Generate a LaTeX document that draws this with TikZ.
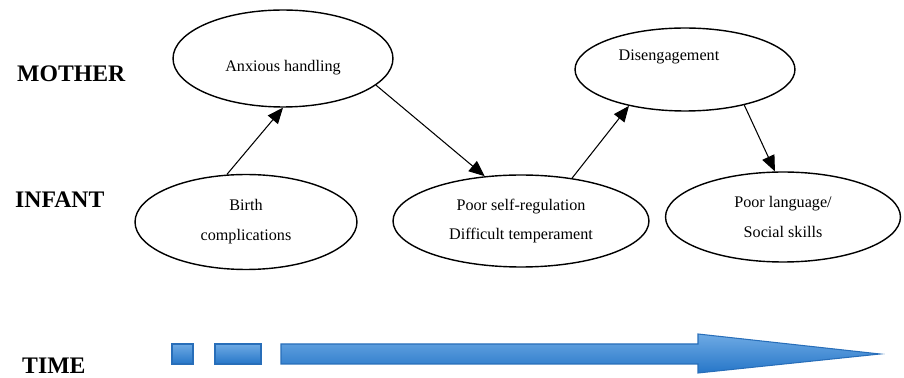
\documentclass[tikz,border=0pt]{standalone}
\usepackage{fontspec}
\setmainfont{Liberation Serif}
\usetikzlibrary{shapes.geometric,arrows.meta}
\definecolor{timetop}{RGB}{110,170,228}
\definecolor{timebot}{RGB}{38,118,200}
\definecolor{timeline}{RGB}{40,110,185}
\begin{document}
\begin{tikzpicture}[x=0.02cm,y=-0.02cm,>={Triangle[length=9pt,width=7.5pt]},
  bubble/.style={draw,ellipse,line width=0.8pt,inner sep=0pt,align=center,
    font=\fontsize{9.2}{17}\selectfont},
  bubbletext/.style={font=\fontsize{9.2}{11}\selectfont},
  who/.style={anchor=base west,font=\fontsize{13.5}{16}\selectfont\bfseries},
  timebar/.style={draw=timeline,line width=0.6pt,top color=timetop,bottom color=timebot}]
\useasboundingbox (0,0) rectangle (904,378);
% rows
\node[who] (mother) at (11,82) {MOTHER};
\node[who] (infant) at (9,208) {INFANT};
\node[who] (time) at (16,374) {TIME};
% ellipses
\node[bubble,minimum width=4.4cm,minimum height=1.94cm] (anx) at (283,58.5) {};
\node[bubbletext] (anxtext) at (283,68) {Anxious handling};
\node[bubble,minimum width=4.44cm,minimum height=1.9cm] (birth) at (246,222) {Birth\\complications};
\node[bubble,minimum width=5.12cm,minimum height=1.84cm] (self) at (521,221) {Poor self-regulation\\Difficult temperament};
\node[bubble,minimum width=4.4cm,minimum height=1.66cm] (dis) at (685,69.5) {};
\node[bubbletext] (distext) at (669,57) {Disengagement};
\node[bubble,minimum width=4.7cm,minimum height=1.8cm] (lang) at (783,217) {Poor language/\\Social skills};
% links
\draw[->,line width=0.6pt](birth.112)--(anx.south);
\draw[->,line width=0.6pt](anx.344)--(self.129);
\draw[->,line width=0.6pt](self.40)--(dis.213);
\draw[->,line width=0.6pt](dis.329)--(lang.100);
% time arrow
\draw[timebar](172,344) rectangle (193,364);
\draw[timebar](215,344) rectangle (261,364);
\draw[timebar](281,344)--(698,344)--(698,334)--(880,354)--(698,373)--(698,364)--(281,364)--cycle;
\end{tikzpicture}
\end{document}
